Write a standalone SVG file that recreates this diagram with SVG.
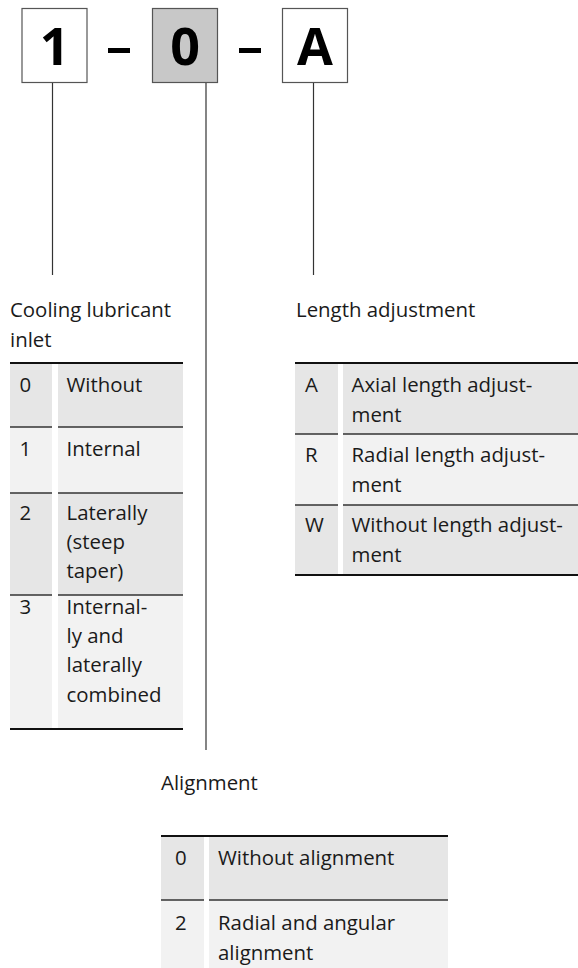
<svg xmlns="http://www.w3.org/2000/svg" width="578" height="968" viewBox="0 0 578 968">
<style>
.box{stroke:#555;stroke-width:1.2}
.big{font-family:"Open Sans","Liberation Sans",sans-serif;font-weight:bold;font-size:52px;fill:#000;text-anchor:middle}
.t{font-family:"Open Sans","Liberation Sans",sans-serif;font-size:20.4px;fill:#1a1a1a}
.dk{fill:#e6e6e6}
.lt{fill:#f2f2f2}
.thick{stroke:#111;stroke-width:2.2}
.sep{stroke:#333;stroke-width:1.3}
.conn{stroke:#333;stroke-width:1.2;fill:none}
</style>
<rect width="578" height="968" fill="#fff"/>
<g id="code">
  <g id="box1"><rect class="box" x="22" y="8.5" width="65" height="74" fill="#fff"/><text class="big" x="54.5" y="65">1</text></g>
  <rect x="108" y="48" width="22" height="5" fill="#000"/>
  <g id="box2"><rect class="box" x="152.5" y="8.5" width="65" height="74" fill="#c8c8c8"/><text class="big" x="185" y="65">0</text></g>
  <rect x="239" y="48" width="22" height="5" fill="#000"/>
  <g id="box3"><rect class="box" x="282.5" y="8.5" width="65" height="74" fill="#fff"/><text class="big" x="315" y="65">A</text></g>
</g>
<g id="connectors">
  <line class="conn" x1="52.5" y1="83" x2="52.5" y2="275"/>
  <line class="conn" x1="206" y1="83" x2="206" y2="750"/>
  <line class="conn" x1="313.5" y1="83" x2="313.5" y2="275"/>
</g>
<g id="cooling">
  <text class="t" x="10" y="317">Cooling lubricant</text>
  <text class="t" x="10" y="347">inlet</text>
  <rect class="dk" x="10" y="363" width="42" height="64"/><rect class="dk" x="58" y="363" width="125" height="64"/>
  <rect class="lt" x="10" y="427" width="42" height="66"/><rect class="lt" x="58" y="427" width="125" height="66"/>
  <rect class="dk" x="10" y="493" width="42" height="102"/><rect class="dk" x="58" y="493" width="125" height="102"/>
  <rect class="lt" x="10" y="595" width="42" height="134"/><rect class="lt" x="58" y="595" width="125" height="134"/>
  <line class="sep" x1="10" y1="427" x2="52" y2="427"/><line class="sep" x1="58" y1="427" x2="183" y2="427"/>
  <line class="sep" x1="10" y1="493" x2="52" y2="493"/><line class="sep" x1="58" y1="493" x2="183" y2="493"/>
  <line class="sep" x1="10" y1="595" x2="52" y2="595"/><line class="sep" x1="58" y1="595" x2="183" y2="595"/>
  <line class="thick" x1="10" y1="363" x2="183" y2="363"/>
  <line class="thick" x1="10" y1="729" x2="183" y2="729"/>
  <text class="t" x="19.5" y="392">0</text><text class="t" x="66.5" y="392">Without</text>
  <text class="t" x="19.5" y="456">1</text><text class="t" x="66.5" y="456">Internal</text>
  <text class="t" x="19.5" y="520">2</text><text class="t" x="66.5" y="520">Laterally</text>
  <text class="t" x="66.5" y="549">(steep</text><text class="t" x="66.5" y="578">taper)</text>
  <text class="t" x="19.5" y="614">3</text><text class="t" x="66.5" y="614">Internal-</text>
  <text class="t" x="66.5" y="643">ly and</text><text class="t" x="66.5" y="672">laterally</text><text class="t" x="66.5" y="702">combined</text>
</g>
<g id="length">
  <text class="t" x="296" y="317">Length adjustment</text>
  <rect class="dk" x="295" y="363" width="43" height="71"/><rect class="dk" x="343" y="363" width="235" height="71"/>
  <rect class="lt" x="295" y="434" width="43" height="71"/><rect class="lt" x="343" y="434" width="235" height="71"/>
  <rect class="dk" x="295" y="505" width="43" height="70"/><rect class="dk" x="343" y="505" width="235" height="70"/>
  <line class="sep" x1="295" y1="434" x2="338" y2="434"/><line class="sep" x1="343" y1="434" x2="578" y2="434"/>
  <line class="sep" x1="295" y1="505" x2="338" y2="505"/><line class="sep" x1="343" y1="505" x2="578" y2="505"/>
  <line class="thick" x1="295" y1="363" x2="578" y2="363"/>
  <line class="thick" x1="295" y1="575" x2="578" y2="575"/>
  <text class="t" x="305" y="392">A</text><text class="t" x="351.5" y="392">Axial length adjust-</text><text class="t" x="351.5" y="422">ment</text>
  <text class="t" x="305" y="462">R</text><text class="t" x="351.5" y="462">Radial length adjust-</text><text class="t" x="351.5" y="492">ment</text>
  <text class="t" x="305" y="532">W</text><text class="t" x="351.5" y="532">Without length adjust-</text><text class="t" x="351.5" y="562">ment</text>
</g>
<g id="alignment">
  <text class="t" x="161" y="790">Alignment</text>
  <rect class="dk" x="161" y="836" width="43" height="64"/><rect class="dk" x="209" y="836" width="239" height="64"/>
  <rect class="lt" x="161" y="900" width="43" height="68"/><rect class="lt" x="209" y="900" width="239" height="68"/>
  <line class="sep" x1="161" y1="900" x2="204" y2="900"/><line class="sep" x1="209" y1="900" x2="448" y2="900"/>
  <line class="thick" x1="161" y1="836" x2="448" y2="836"/>
  <text class="t" x="175" y="865">0</text><text class="t" x="218" y="865">Without alignment</text>
  <text class="t" x="175" y="930">2</text><text class="t" x="218" y="930">Radial and angular</text><text class="t" x="218" y="960">alignment</text>
</g>
</svg>
